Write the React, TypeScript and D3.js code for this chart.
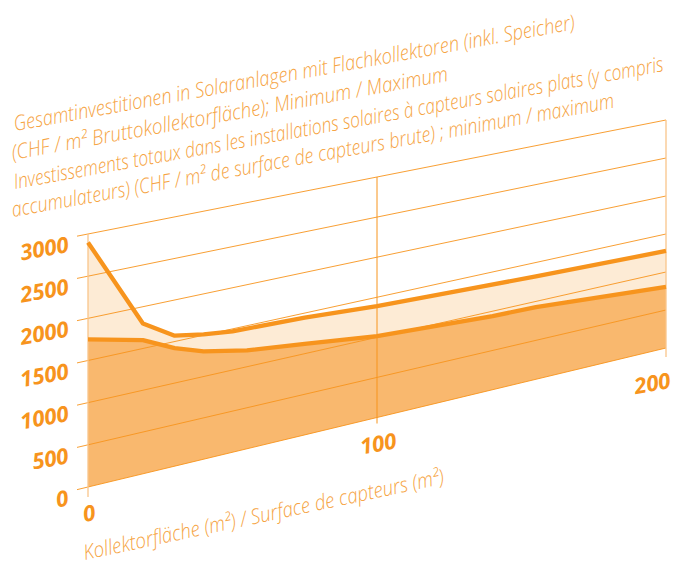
import * as d3 from 'd3'

// Investment cost per m2 collector area (CHF/m2)
const maxArea = [0, 19, 30, 40, 50, 75, 100, 125, 155, 200]
const maxCost = [2900, 1800, 1570, 1510, 1470, 1445, 1390, 1360, 1320, 1277]
const minArea = [0, 19, 30, 40, 55, 75, 100, 125, 140, 155, 175, 200]
const minCost = [1750, 1600, 1420, 1305, 1200, 1120, 1015, 968, 938, 927, 873, 805]

const yTicks = [0, 500, 1000, 1500, 2000, 2500, 3000]
const xTicks = [0, 100, 200]

const titleLines = [
  'Gesamtinvestitionen in Solaranlagen mit Flachkollektoren (inkl. Speicher)',
  '(CHF / m² Bruttokollektorfläche); Minimum / Maximum',
  'Investissements totaux  dans les installations solaires à capteurs solaires plats (y compris',
  'accumulateurs) (CHF / m² de surface de capteurs brute) ; minimum / maximum',
]
const xTitle = 'Kollektorfläche (m²) / Surface de capteurs (m²)'

const W = 686
const H = 564
const ORANGE = '#f7941d'
const LIGHT = '#f6a443'
const FILL_DARK = '#f9b86e'
const FILL_LIGHT = '#fdebd5'
const AXIS_PALE = '#f9c58a'

// tilted plane: baseline and top line converge to the right
const xPx = d3.scaleLinear().domain([0, 200]).range([88, 666])
const baseY = d3.scaleLinear().domain([0, 200]).range([487, 348])
const topY = d3.scaleLinear().domain([0, 200]).range([234, 120])
const yPx = (x: number, v: number) =>
  d3.scaleLinear().domain([0, 3000]).range([baseY(x), topY(x)])(v)

type Pt = [number, number]

export default function App() {
  const maxPts: Pt[] = maxArea.map((a, i) => [xPx(a), yPx(a, maxCost[i])])
  const minPts: Pt[] = minArea.map((a, i) => [xPx(a), yPx(a, minCost[i])])

  const line = d3.line<Pt>().x(d => d[0]).y(d => d[1])

  const darkArea = d3.area<number>()
    .x((_, i) => xPx(minArea[i]))
    .y0((_, i) => baseY(minArea[i]))
    .y1((v, i) => yPx(minArea[i], v))

  const band = line([...maxPts, ...minPts.slice().reverse()]) + 'Z'

  const gridStart = xPx.invert(77)

  const titleStarts = [
    { x: 15, y: 131, len: 570 },
    { x: 13, y: 160, len: 443 },
    { x: 15, y: 189, len: 660 },
    { x: 13, y: 217, len: 612 },
  ]

  return (
    <svg width={W} height={H} style={{ position: 'absolute', left: 0, top: 0 }}
      fontFamily="'Open Sans', 'Noto Sans', sans-serif">
      <rect width={W} height={H} fill="#fff" />

      {/* fills */}
      <path d={band} fill={FILL_LIGHT} />
      <path d={darkArea(minCost) ?? ''} fill={FILL_DARK} />

      {/* horizontal grid */}
      {yTicks.map(t => (
        <line key={t}
          x1={77} y1={yPx(gridStart, t)}
          x2={xPx(200)} y2={yPx(200, t)}
          stroke={ORANGE} strokeWidth={0.9} />
      ))}

      {/* verticals */}
      <line x1={xPx(0)} x2={xPx(0)} y1={topY(0)} y2={baseY(0) + 10} stroke={AXIS_PALE} strokeWidth={1.3} />
      <line x1={xPx(100)} x2={xPx(100)} y1={topY(100)} y2={baseY(100) + 6} stroke={ORANGE} strokeWidth={1} />
      <line x1={xPx(200)} x2={xPx(200)} y1={topY(200)} y2={baseY(200) + 9} stroke={AXIS_PALE} strokeWidth={1.3} />

      {/* data lines */}
      <path d={line(minPts) ?? ''} fill="none" stroke={ORANGE} strokeWidth={4.3} strokeLinejoin="round" />
      <path d={line(maxPts) ?? ''} fill="none" stroke={ORANGE} strokeWidth={4.3} strokeLinejoin="round" />

      {/* y tick labels */}
      {yTicks.map(t => {
        const y = yPx(gridStart, t) + 7
        return (
          <text key={t} x={68} y={y} textAnchor="end" dominantBaseline="central"
            fontSize={22} fontWeight={700} fontStyle="italic" fill={ORANGE}
            transform={`rotate(-10 68 ${y})`}>{t}</text>
        )
      })}

      {/* x tick labels */}
      {xTicks.map((t, i) => {
        const last = i === xTicks.length - 1
        const x = last ? xPx(t) + 4 : xPx(t) + 1
        const y = baseY(t) + (last ? 31 : 25)
        return (
          <text key={t} x={x} y={y} textAnchor={last ? 'end' : 'middle'} dominantBaseline="central"
            fontSize={22} fontWeight={700} fontStyle="italic" fill={ORANGE}
            transform={`rotate(-10 ${x} ${y})`}>{t}</text>
        )
      })}

      {/* x axis title */}
      <text x={85} y={560} fontSize={21} fontWeight={300} fontStyle="italic" fill={LIGHT}
        textLength={368} lengthAdjust="spacingAndGlyphs"
        transform="rotate(-12 85 560)">{xTitle}</text>

      {/* chart title */}
      {titleLines.map((s, i) => (
        <text key={i} x={titleStarts[i].x} y={titleStarts[i].y}
          fontSize={21} fontWeight={300} fontStyle="italic" fill={LIGHT}
          textLength={titleStarts[i].len} lengthAdjust="spacingAndGlyphs"
          transform={`rotate(-10.3 ${titleStarts[i].x} ${titleStarts[i].y})`}>{s}</text>
      ))}
    </svg>
  )
}
